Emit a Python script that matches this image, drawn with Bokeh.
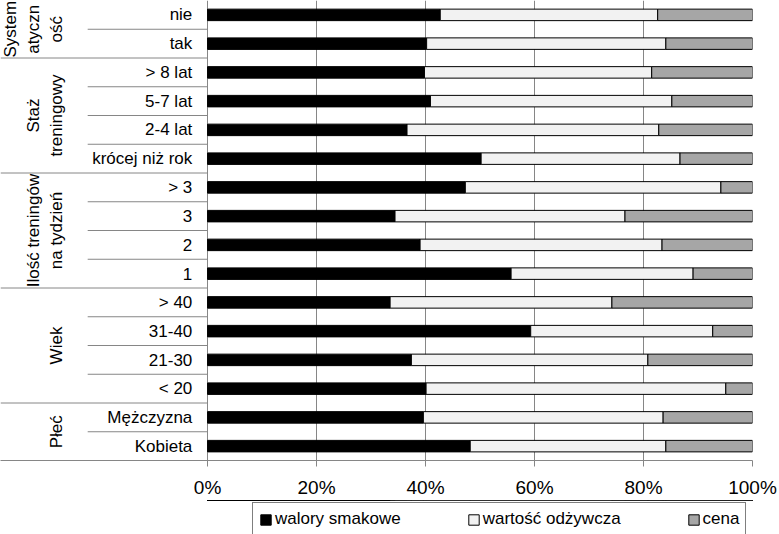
import math
from bokeh.plotting import figure
from bokeh.layouts import column
from bokeh.models import Range1d, FixedTicker, ColumnDataSource, Legend, LegendItem
from bokeh.core.properties import value
from bokeh.embed import file_html
from bokeh.resources import INLINE

# ---------------- data ----------------
categories = ["nie", "tak", "> 8 lat", "5-7 lat", "2-4 lat", "krócej niż rok",
              "> 3", "3", "2", "1", "> 40", "31-40", "21-30", "< 20",
              "Mężczyzna", "Kobieta"]
group_lines = [["System", "atyczn", "ość"], ["Staż", "treningowy"],
               ["Ilość treningów", "na tydzień"], ["Wiek"], ["Płeć"]]
group_sizes = [2, 4, 4, 4, 2]

walory = [42.7, 40.2, 39.8, 40.9, 36.6, 50.2, 47.3, 34.4, 39.0, 55.7, 33.5, 59.3, 37.4, 40.1, 39.6, 48.2]
wartosc = [39.9, 43.9, 41.7, 44.3, 46.2, 36.5, 46.9, 42.2, 44.4, 33.4, 40.7, 33.4, 43.4, 55.0, 44.0, 35.9]
cena = [17.4, 15.9, 18.5, 14.8, 17.2, 13.3, 5.8, 23.4, 16.6, 10.9, 25.8, 7.3, 19.2, 4.9, 16.4, 15.9]

series_labels = ["walory smakowe", "wartość odżywcza", "cena"]
series_colors = ["#000000", "#F2F2F2", "#A6A6A6"]
tick_values = [0, 20, 40, 60, 80, 100]
tick_labels = ["0%", "20%", "40%", "60%", "80%", "100%"]

# ---------------- layout constants ----------------
FONT = "Liberation Sans"
GRID = "#868686"
X_LEFT = -38.0
SUB_LABEL_X = -2.8
SUB_LINE_X0 = -22.0
GROUP_LAST_X = -27.7
GROUP_LINE_STEP = 4.22

n = len(categories)
ys = [i + 0.5 for i in range(n)]

p = figure(width=779, height=500, output_backend="svg", toolbar_location=None,
           x_range=Range1d(X_LEFT, 100), y_range=Range1d(n, 0),
           y_axis_location=None, min_border_left=0, min_border_right=27,
           min_border_top=0, min_border_bottom=39, outline_line_color=None)

# grid
p.xgrid.ticker = FixedTicker(ticks=tick_values)
p.xgrid.grid_line_color = GRID
p.xgrid.grid_line_width = 1
p.ygrid.visible = False

# bars
src = ColumnDataSource(dict(y=ys, walory=walory, wartosc=wartosc, cena=cena))
renderers = p.hbar_stack(["walory", "wartosc", "cena"], y="y", height=0.4,
                         color=series_colors, line_color="black", line_width=1,
                         source=src)

# category table lines
group_bounds = []
acc = 0
for s in group_sizes:
    acc += s
    group_bounds.append(acc)
x0s, y0s, x1s, y1s = [], [], [], []
for k in range(1, n):
    x0s.append(X_LEFT if k in group_bounds else SUB_LINE_X0)
    x1s.append(0)
    y0s.append(k)
    y1s.append(k)
p.segment(x0=x0s, y0=y0s, x1=x1s, y1=y1s, line_color=GRID, line_width=1)

# sub-category labels
p.text(x=SUB_LABEL_X, y=ys, text=categories, text_align="right", text_baseline="middle",
       text_font=value(FONT), text_font_size="17px", text_color="black")

# group labels (rotated)
gx, gy, gt = [], [], []
start = 0
for lines, s in zip(group_lines, group_sizes):
    cy = start + s / 2.0
    m = len(lines)
    for j, t in enumerate(lines):
        gx.append(GROUP_LAST_X - (m - 1 - j) * GROUP_LINE_STEP)
        gy.append(cy)
        gt.append(t)
    start += s
p.text(x=gx, y=gy, text=gt, angle=math.pi / 2, text_align="center", text_baseline="middle",
       text_font=value(FONT), text_font_size="17px", text_color="black")

# x axis
ax = p.xaxis[0]
ax.ticker = FixedTicker(ticks=tick_values)
ax.major_label_overrides = {v: l for v, l in zip(tick_values, tick_labels)}
ax.major_label_text_font = FONT
ax.major_label_text_font_size = "19px"
ax.major_label_text_color = "black"
ax.axis_line_color = GRID
ax.major_tick_line_color = GRID
ax.major_tick_out = 6
ax.major_tick_in = 0
ax.minor_tick_line_color = None
ax.major_label_standoff = 10

# legend strip: a small figure whose (off-view) copy of the stack supplies the swatches
pl = figure(width=779, height=34, output_backend="svg", toolbar_location=None,
            x_range=Range1d(X_LEFT, 100), y_range=Range1d(-10, -9),
            x_axis_location=None, y_axis_location=None,
            min_border_left=0, min_border_right=0, min_border_top=0, min_border_bottom=0,
            outline_line_color=None)
pl.grid.visible = False
src2 = ColumnDataSource(dict(y=ys, walory=walory, wartosc=wartosc, cena=cena))
swatches = pl.hbar_stack(["walory", "wartosc", "cena"], y="y", height=0.4,
                         color=series_colors, line_color="black", line_width=1,
                         source=src2)
legend = Legend(items=[LegendItem(label=l, renderers=[r]) for l, r in zip(series_labels, swatches)],
                orientation="horizontal", location=(252, -2),
                border_line_color="black", border_line_width=1,
                label_text_font=FONT, label_text_font_size="17px", label_text_color="black",
                glyph_width=13, glyph_height=13, label_standoff=3,
                spacing=66, padding=6, margin=0, label_height=18,
                background_fill_color="white", background_fill_alpha=1.0)
pl.add_layout(legend, "center")

layout = column(p, pl, spacing=0)

with open("out.html", "w", encoding="utf-8") as f:
    f.write(file_html(layout, INLINE))
